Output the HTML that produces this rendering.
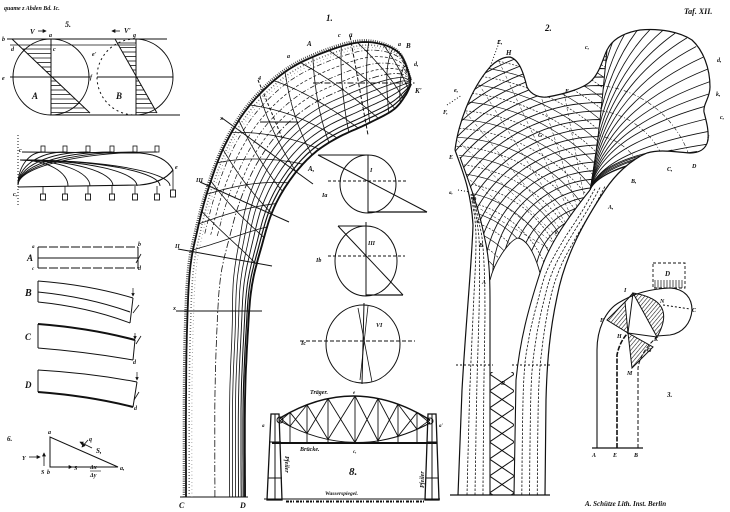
<!DOCTYPE html>
<html><head><meta charset="utf-8">
<style>
html,body{margin:0;padding:0;background:#fff;width:730px;height:512px;overflow:hidden;}
svg{display:block;}
text{font-family:"Liberation Serif",serif;font-style:italic;font-weight:bold;fill:#111;stroke:none;}
</style></head>
<body>
<svg id="s" width="730" height="512" viewBox="0 0 730 512" xmlns="http://www.w3.org/2000/svg" overflow="hidden">
<defs>
 <marker id="ar" viewBox="0 0 6 6" refX="5" refY="3" markerWidth="5" markerHeight="5" orient="auto"><path d="M0,0L6,3L0,6Z" fill="#111"/></marker>
 <pattern id="h" width="3" height="3" patternUnits="userSpaceOnUse" patternTransform="rotate(40)"><line x1="0" y1="0" x2="0" y2="3" stroke="#111" stroke-width="1.1"/></pattern>
 <clipPath id="meshClip"><path d="M455,150 C458,125 470,90 490,67 C497,60 503,57 510,57 C520,60 524,75 527,87 C531,95 540,98 547,97 C565,94 585,88 592,80 C600,72 603,58 607,50 L600,120 L590,190 C570,215 548,245 540,273 C535,255 528,240 518,238 C510,240 495,260 490,280 C490,275 489,255 486,245 C482,225 475,200 460,157 Z"/></clipPath>
 <clipPath id="fanClip"><path d="M590,190 L600,120 L607,50 C612,40 622,33 640,30 C660,28 680,32 692,40 C703,50 710,68 710,87 C710,98 703,104 704,112 C706,120 709,130 708,140 C706,150 698,153 690,153 C675,152 660,149 647,153 C630,160 615,175 605,190 Z"/></clipPath>
 <clipPath id="rClip"><rect x="490" y="372" width="24" height="123"/></clipPath>
</defs>

<g fill="none" stroke="#111" stroke-width="1">
 <!-- Figure 5 -->
 <line x1="7" y1="39" x2="167" y2="39"/>
 <line x1="10" y1="45" x2="135" y2="45" stroke-width="0.8"/>
 <line x1="50" y1="115" x2="180" y2="115"/>
 <circle cx="51" cy="77" r="38"/>
 <path d="M135,39 A38,38 0 0 1 135,115"/>
 <path d="M135,39 A38,38 0 0 0 135,115" stroke-dasharray="2 3"/>
 <line x1="10" y1="77" x2="90" y2="77"/>
 <line x1="97" y1="77" x2="173" y2="77"/>
 <line x1="51" y1="39" x2="51" y2="115"/>
 <line x1="12" y1="39" x2="90" y2="113"/>
 <line x1="136" y1="39" x2="136" y2="115"/>
 <line x1="115" y1="39" x2="157" y2="113"/>
 <line x1="38" y1="31" x2="46" y2="31" marker-end="url(#ar)" stroke-width="0.8"/>
 <line x1="120" y1="31" x2="112" y2="31" marker-end="url(#ar)" stroke-width="0.8"/>

 <!-- weights figure -->
 <line x1="18" y1="135" x2="18" y2="205" stroke-dasharray="1 2"/>
 <path d="M22,152 L140,153 Q165,155 173,170" stroke-width="1.1"/>
 <path d="M18,187 L140,185 Q163,183 173,170" stroke-width="1.1"/>
 <line x1="173" y1="170" x2="173" y2="190" stroke-width="0.8"/>
 <rect x="170.5" y="190" width="5" height="7" stroke-width="0.9"/>

 <!-- beams -->
 <line x1="38" y1="247" x2="138" y2="247" stroke-dasharray="9 2"/>
 <line x1="38" y1="258" x2="138" y2="258"/>
 <line x1="38" y1="268" x2="138" y2="268" stroke-dasharray="9 2"/>
 <line x1="38" y1="247" x2="38" y2="268"/>
 <line x1="138" y1="247" x2="138" y2="268"/>
 <line x1="136" y1="263" x2="141" y2="254" stroke-width="0.8"/>
 <path d="M38,281 Q90,285 133,298"/>
 <path d="M38,292 Q88,297 130,312"/>
 <path d="M38,302 Q88,307 130,323"/>
 <line x1="38" y1="281" x2="38" y2="302"/>
 <line x1="133" y1="298" x2="130" y2="323"/>
 <line x1="133" y1="288" x2="133" y2="296" marker-end="url(#ar)" stroke-width="0.7"/>
 <line x1="133" y1="313" x2="139" y2="305" stroke-width="0.8"/>
 <path d="M38,324 Q90,328 135,340" stroke-width="2"/>
 <path d="M38,348 Q88,352 133,360"/>
 <line x1="38" y1="324" x2="38" y2="348"/>
 <line x1="135" y1="340" x2="133" y2="360"/>
 <line x1="135" y1="333" x2="135" y2="339" marker-end="url(#ar)" stroke-width="0.7"/>
 <line x1="136" y1="344" x2="141" y2="336" stroke-width="0.8"/>
 <path d="M38,370 Q90,373 137,382"/>
 <path d="M38,392 Q90,396 133,407" stroke-width="2"/>
 <line x1="38" y1="370" x2="38" y2="392"/>
 <line x1="137" y1="382" x2="133" y2="407"/>
 <line x1="137" y1="372" x2="137" y2="380" marker-end="url(#ar)" stroke-width="0.7"/>
 <line x1="134" y1="400" x2="139" y2="392" stroke-width="0.8"/>

 <!-- figure 6 triangle -->
 <path d="M50,437 L50,467 L118,467 Z"/>
 <line x1="29" y1="457" x2="40" y2="457" marker-end="url(#ar)" stroke-width="0.8"/>
 <line x1="44" y1="466" x2="44" y2="453" marker-end="url(#ar)" stroke-width="0.8"/>
 <line x1="60" y1="467" x2="72" y2="467" marker-end="url(#ar)" stroke-width="0.8" stroke-dasharray="2 1"/>
 <line x1="88" y1="440" x2="82" y2="447" marker-end="url(#ar)" stroke-width="0.8"/>
 <line x1="92" y1="448" x2="80" y2="442" marker-end="url(#ar)" stroke-width="0.8"/>
 <line x1="90" y1="471" x2="101" y2="471" stroke-width="0.6"/>

 <!-- Figure 1 auxiliary straight lines -->
 <line x1="176" y1="311" x2="262" y2="311"/>
 <line x1="178" y1="249" x2="272" y2="266"/>
 <line x1="200" y1="182" x2="289" y2="222"/>
 <line x1="222" y1="118" x2="313" y2="184"/>
 <line x1="258" y1="80" x2="283" y2="140" stroke-dasharray="3 2"/>
 <line x1="260" y1="122" x2="298" y2="122"/>
 <line x1="350" y1="36" x2="368" y2="135" stroke-dasharray="4 2"/>
 <line x1="313" y1="83" x2="415" y2="83" stroke-dasharray="6 2 1.5 2"/>
 <line x1="180" y1="497" x2="248" y2="497"/>

 <!-- Fig 1a -->
 <ellipse cx="368" cy="184" rx="28" ry="29"/>
 <line x1="318" y1="155" x2="368" y2="155"/>
 <line x1="318" y1="155" x2="427" y2="212"/>
 <line x1="368" y1="212" x2="427" y2="212" stroke-width="1.3"/>
 <line x1="368" y1="155" x2="368" y2="213"/>
 <line x1="328" y1="181" x2="408" y2="181" stroke-dasharray="3 2"/>
 <!-- Fig 1b -->
 <ellipse cx="366" cy="261" rx="31" ry="35"/>
 <line x1="338" y1="226" x2="366" y2="226"/>
 <line x1="338" y1="226" x2="403" y2="295"/>
 <line x1="366" y1="295" x2="403" y2="295" stroke-width="1.2"/>
 <line x1="366" y1="222" x2="366" y2="296"/>
 <line x1="328" y1="256" x2="405" y2="256" stroke-dasharray="3 2"/>
 <!-- Fig 1c -->
 <ellipse cx="363" cy="344" rx="37" ry="39"/>
 <line x1="300" y1="341" x2="415" y2="341" stroke-dasharray="4 2"/>
 <line x1="364" y1="303" x2="362" y2="384"/>
 <line x1="358" y1="308" x2="372" y2="382" stroke-width="0.8"/>
 <line x1="368" y1="306" x2="360" y2="380" stroke-width="0.8"/>

 <!-- Fig 8 bridge -->
 <path d="M280,418 Q355,373 430,420" stroke-width="1.4"/>
 <path d="M280,421 Q355,463 430,423"/>
 <line x1="272" y1="443" x2="437" y2="443" stroke-width="2"/>
 <circle cx="280" cy="420" r="3"/>
 <circle cx="430" cy="421" r="3"/>
 <path d="M271,414 L279,414 L282,500 L267,500 Z" stroke-width="1.3"/>
 <line x1="275" y1="414" x2="275" y2="500"/>
 <line x1="269" y1="442" x2="281" y2="442"/>
 <line x1="268" y1="478" x2="282" y2="478"/>
 <path d="M428,414 L436,414 L439,500 L425,500 Z" stroke-width="1.3"/>
 <line x1="432" y1="414" x2="432" y2="500"/>
 <line x1="427" y1="442" x2="437" y2="442"/>
 <line x1="426" y1="478" x2="438" y2="478"/>
 <line x1="264" y1="499" x2="440" y2="499"/>
 <line x1="286" y1="501.5" x2="425" y2="501.5" stroke-width="2" stroke-dasharray="3 1 2 1 1 2"/>

 <!-- Figure 2 outlines -->
 <path d="M455,150 C458,125 470,90 490,67 C497,60 503,57 510,57 C520,60 524,75 527,87 C531,95 540,98 547,97 C565,94 585,88 592,80 C600,72 603,58 607,50 C612,40 622,33 640,30 C660,28 680,32 692,40 C703,50 710,68 710,87 C710,98 703,104 704,112 C706,120 709,130 708,140 C706,150 698,153 690,153 C675,152 660,149 647,153" stroke-width="1.2"/>
 <path d="M455,150 C462,170 471,190 473,225 C472,260 466,320 462,390 L458,495" stroke-width="1.2"/>
 <path d="M460,157 C468,180 478,205 484,235 C489,255 490,275 490,300 L490,495" stroke-width="1.1"/>
 <path d="M590,190 C570,215 548,245 540,273 C528,310 520,340 516,380 L514,495" stroke-width="1.1"/>
 <path d="M647,153 C630,160 615,175 605,190 C585,220 565,255 557,297 C550,330 547,360 546,400 L545,495" stroke-width="1.2"/>
 <path d="M490,280 C495,260 510,240 518,238 C528,240 535,255 540,273" stroke-width="0.9"/>
 <path d="M607,50 C603,90 598,150 590,190" stroke-width="1"/>
 <line x1="450" y1="495" x2="550" y2="495" stroke-width="1.2"/>
 <line x1="456" y1="365" x2="493" y2="365" stroke-dasharray="2 2"/>
 <line x1="512" y1="365" x2="552" y2="365" stroke-dasharray="2 2"/>
 <line x1="500" y1="40" x2="490" y2="67" stroke-dasharray="1 2"/>
 <line x1="447" y1="105" x2="462" y2="95" stroke-dasharray="1 2"/>
 <line x1="458" y1="190" x2="470" y2="192" stroke-dasharray="1 2"/>

 <!-- Figure 3 -->
 <line x1="592" y1="448" x2="643" y2="448" stroke-width="1.2"/>
 <path d="M597,448 L597,350 C597,330 605,310 620,302 C635,293 650,289 670,288 C685,289 692,298 692,310 C691,323 683,333 670,335 L657,336" stroke-width="1.1"/>
 <path d="M638,448 L638,368 C640,355 648,345 657,337" stroke-dasharray="4 2"/>
 <path d="M617,448 L617,355 C619,345 623,338 628,333" stroke-width="1.6" stroke-dasharray="5 1.5"/>
 <path d="M633,293 Q678,300 657,337 Z" fill="url(#h)"/>
 <path d="M607,320 L625,302 L628,333 Z" fill="url(#h)"/>
 <path d="M628,333 L653,347 L632,368 Z" fill="url(#h)"/>
 <line x1="625" y1="302" x2="633" y2="293"/>
 <line x1="628" y1="333" x2="657" y2="337"/>
 <line x1="633" y1="293" x2="628" y2="333"/>
 <line x1="663" y1="305" x2="690" y2="309" stroke-dasharray="2 2"/>
 <rect x="653" y="263" width="32" height="25" stroke-dasharray="3 2" stroke-width="0.9"/>
</g>

<g id="dyn" fill="none" stroke="#111" stroke-width="1"></g>

<g font-size="7">
 <text x="4" y="10" font-size="6">quame z Abden Bd. Ic.</text>
 <text x="684" y="14" font-size="8">Taf. XII.</text>
 <text x="65" y="27" font-size="8">5.</text>
 <text x="30" y="34">V</text>
 <text x="124" y="33">V'</text>
 <text x="49" y="37" font-size="6">a</text>
 <text x="133" y="37" font-size="6">g</text>
 <text x="2" y="41" font-size="6">b</text>
 <text x="11" y="51" font-size="6">d</text>
 <text x="53" y="51" font-size="6">c</text>
 <text x="2" y="80" font-size="6">e</text>
 <text x="90" y="79" font-size="6">f</text>
 <text x="92" y="56" font-size="6">e'</text>
 <text x="32" y="99" font-size="9">A</text>
 <text x="116" y="99" font-size="9">B</text>
 <text x="19" y="152" font-size="6">c</text>
 <text x="175" y="169" font-size="6">e</text>
 <text x="13" y="196" font-size="6">c,</text>
 <text x="27" y="261" font-size="9">A</text>
 <text x="25" y="296" font-size="10">B</text>
 <text x="25" y="340" font-size="9">C</text>
 <text x="25" y="388" font-size="9">D</text>
 <text x="32" y="248" font-size="5">a</text><text x="32" y="270" font-size="5">c</text>
 <text x="138" y="246" font-size="6">b</text><text x="138" y="270" font-size="6">d</text>
 <text x="134" y="410" font-size="6">d</text><text x="133" y="364" font-size="6">d</text>
 <text x="7" y="441" font-size="7">6.</text>
 <text x="48" y="434" font-size="6">a</text>
 <text x="47" y="474" font-size="6">b</text>
 <text x="120" y="470" font-size="6">a,</text>
 <text x="22" y="460" font-size="6">Y</text>
 <text x="41" y="474" font-size="6">S</text>
 <text x="74" y="470" font-size="6">S</text>
 <text x="90" y="469" font-size="6">Δx</text>
 <text x="90" y="477" font-size="6">Δy</text>
 <text x="89" y="441" font-size="6">q</text>
 <text x="96" y="453" font-size="7">S,</text>

 <text x="326" y="21" font-size="9">1.</text>
 <text x="307" y="46">A</text>
 <text x="338" y="37" font-size="6">c</text>
 <text x="349" y="37">a</text>
 <text x="406" y="48">B</text>
 <text x="398" y="46" font-size="6">a</text>
 <text x="414" y="66" font-size="6">d,</text>
 <text x="415" y="93">K'</text>
 <text x="287" y="58" font-size="6">a</text>
 <text x="258" y="80" font-size="6">4</text>
 <text x="220" y="120" font-size="6">x</text>
 <text x="196" y="182" font-size="6">III</text>
 <text x="175" y="248" font-size="6">II</text>
 <text x="173" y="310" font-size="6">x</text>
 <text x="308" y="171">A,</text>
 <text x="370" y="172" font-size="6">I</text>
 <text x="322" y="197" font-size="6">Ia</text>
 <text x="368" y="245" font-size="6">III</text>
 <text x="316" y="262" font-size="6">Ib</text>
 <text x="376" y="327" font-size="6">VI</text>
 <text x="301" y="345" font-size="6">Ic</text>
 <text x="179" y="508" font-size="8">C</text>
 <text x="240" y="508" font-size="8">D</text>

 <text x="310" y="394" font-size="6">Träger.</text>
 <text x="353" y="394" font-size="5">e</text>
 <text x="300" y="451" font-size="6">Brücke.</text>
 <text x="353" y="453" font-size="5">c,</text>
 <text x="349" y="475" font-size="11">8.</text>
 <text x="262" y="427" font-size="5">a</text>
 <text x="439" y="427" font-size="5">a'</text>
 <text transform="translate(285,456) rotate(90)" font-size="6">Pfeiler</text>
 <text transform="translate(424,488) rotate(-90)" font-size="6">Pfeiler</text>
 <text x="325" y="495" font-size="5.5">Wasserspiegel.</text>

 <text x="545" y="31" font-size="9">2.</text>
 <text x="497" y="44" font-size="6">E,</text>
 <text x="506" y="55">H</text>
 <text x="585" y="49" font-size="6">c,</text>
 <text x="717" y="62" font-size="6">d,</text>
 <text x="716" y="96" font-size="6">k,</text>
 <text x="720" y="119" font-size="6">c,</text>
 <text x="707" y="140" font-size="6">f</text>
 <text x="565" y="93" font-size="6">F</text>
 <text x="538" y="137" font-size="6">G</text>
 <text x="454" y="92" font-size="6">e,</text>
 <text x="443" y="114" font-size="6">F,</text>
 <text x="449" y="159" font-size="6">E</text>
 <text x="449" y="194" font-size="5">a,</text>
 <text x="472" y="201" font-size="6">D</text>
 <text x="477" y="223" font-size="6">C</text>
 <text x="479" y="247" font-size="6">B</text>
 <text x="482" y="284" font-size="6">A</text>
 <text x="608" y="209" font-size="6">A,</text>
 <text x="631" y="183" font-size="6">B,</text>
 <text x="667" y="171" font-size="6">C,</text>
 <text x="692" y="168" font-size="6">D</text>
 <text x="501" y="385" font-size="6">R</text>
 <text x="555" y="234" font-size="5">k</text>

 <text x="592" y="457" font-size="6">A</text>
 <text x="613" y="457" font-size="6">E</text>
 <text x="634" y="457" font-size="6">B</text>
 <text x="667" y="397" font-size="7">3.</text>
 <text x="600" y="322" font-size="6">F</text>
 <text x="624" y="292" font-size="6">I</text>
 <text x="660" y="303" font-size="6">N</text>
 <text x="692" y="312" font-size="6">C</text>
 <text x="617" y="338" font-size="6">H</text>
 <text x="627" y="375" font-size="6">M</text>
 <text x="647" y="352" font-size="6">G</text>
 <text x="654" y="341" font-size="6">K</text>
 <text x="665" y="276" font-size="7">D</text>

 <text x="585" y="506" font-size="7">A. Schütze Lith. Inst. Berlin</text>
</g>
</svg>

<script>
(function(){
var NS='http://www.w3.org/2000/svg';
var g=document.getElementById('dyn');
function add(parent,tag,attrs){var e=document.createElementNS(NS,tag);for(var k in attrs)e.setAttribute(k,attrs[k]);parent.appendChild(e);return e;}
function P(d,a){return add(g,'path',Object.assign({d:d},a||{}));}
function L(x1,y1,x2,y2,a){return add(g,'line',Object.assign({x1:x1,y1:y1,x2:x2,y2:y2},a||{}));}
function lerp(a,b,t){return [a[0]+(b[0]-a[0])*t,a[1]+(b[1]-a[1])*t];}
function cr(pts,per){per=per||10;var out=[];
 for(var i=0;i<pts.length-1;i++){var p0=pts[Math.max(i-1,0)],p1=pts[i],p2=pts[i+1],p3=pts[Math.min(i+2,pts.length-1)];
  for(var j=0;j<per;j++){var t=j/per,t2=t*t,t3=t2*t;
   var f=function(a,b,c,d){return 0.5*((2*b)+(-a+c)*t+(2*a-5*b+4*c-d)*t2+(-a+3*b-3*c+d)*t3);};
   out.push([f(p0[0],p1[0],p2[0],p3[0]),f(p0[1],p1[1],p2[1],p3[1])]);}}
 out.push(pts[pts.length-1]);return out;}
function resample(pts,n){var d=[0];for(var i=1;i<pts.length;i++)d.push(d[i-1]+Math.hypot(pts[i][0]-pts[i-1][0],pts[i][1]-pts[i-1][1]));
 var Lt=d[d.length-1];var out=[];var j=0;
 for(var k=0;k<n;k++){var s=Lt*k/(n-1);while(j<pts.length-2&&d[j+1]<s)j++;var u=(s-d[j])/((d[j+1]-d[j])||1);
  out.push([pts[j][0]+(pts[j+1][0]-pts[j][0])*u,pts[j][1]+(pts[j+1][1]-pts[j][1])*u]);}return out;}
function pd(pts){return 'M'+pts.map(function(p){return p[0].toFixed(1)+','+p[1].toFixed(1);}).join('L');}
function sampleAt(arr,f){f=Math.max(0,Math.min(arr.length-1,f));var i=Math.floor(f),u=f-i;if(i>=arr.length-1)return arr[arr.length-1];return lerp(arr[i],arr[i+1],u);}
function arcPts(cx,cy,r,a0,a1){var pts=[];var n=Math.max(8,Math.ceil(Math.abs(a1-a0)/3));for(var i=0;i<=n;i++){var a=(a0+(a1-a0)*i/n)*Math.PI/180;pts.push([cx+r*Math.cos(a),cy+r*Math.sin(a)]);}return pts;}

/* Figure 5 hatching */
var y;
for(y=49;y<76;y+=4.5){L(12+(y-39)*78/74,y,51,y,{'stroke-width':0.8});}
for(y=81;y<114;y+=4.5){L(51,y,12+(y-39)*78/74,y,{'stroke-width':0.8});}
for(y=43;y<76;y+=4.5){L(115+(y-39)*42/74,y,136,y,{'stroke-width':0.8});}
for(y=81;y<114;y+=4.5){L(136,y,115+(y-39)*42/74,y,{'stroke-width':0.8});}

/* weights */
[43,65,88,112,135,157].forEach(function(x){
 add(g,'rect',{x:x-2,y:146,width:4,height:6,'stroke-width':0.8});
 add(g,'rect',{x:x-2.5,y:194,width:5,height:6,'stroke-width':0.9});
 L(x,186,x,194,{'stroke-width':0.8});
 P('M18,185 A'+(x-18)+',33 0 0 1 '+x+',152',{'stroke-width':0.9});
 var x2=Math.min(x+25,170);
 P('M20,160 A'+(x2-20)+',26 0 0 1 '+x2+',186',{'stroke-width':0.9});
});

/* Figure 1 crane */
var secO=[[186,497],[186,400],[187,330],[190,270],[197,232],[208,190],[225,145],[250,105],[285,72],[325,52],[365,42],[398,52],[411,80]];
var secI=[[245,497],[245,400],[248,330],[252,285],[262,245],[273,210],[290,180],[312,155],[337,138],[367,124],[393,110],[405,96],[411,84]];
var W=[0,0,0,0.25,0.55,0.85,1,1,1,1,1,1,1];
function crane(tb,tt,start){var pts=[];for(var k=start||0;k<secO.length;k++){var t=tb*(1-W[k])+tt*W[k];pts.push(lerp(secO[k],secI[k],t));}return cr(pts,10);}
P(pd(crane(-0.035,-0.025)),{'stroke-width':2.4,'stroke-dasharray':'0.8 1.4',stroke:'#333'});
P(pd(crane(0.055,0.045)),{'stroke-width':1.6,'stroke-dasharray':'0.8 2.2',stroke:'#555'});
P(pd(crane(0.1,0.08)),{'stroke-width':1,'stroke-dasharray':'0.6 3',stroke:'#777'});
[[0,0,'',1.8,0],[1,1,'',1.9,0],[0.49,0.5,'7 2 1.5 2',0.8,0],
 [0.74,0.58,'',0.8,0],[0.79,0.66,'',0.8,0],[0.84,0.74,'',0.8,0],[0.89,0.82,'',0.9,0],[0.935,0.9,'',1,0],[0.97,0.95,'',1.2,0],
 [0.12,0.12,'5 2 1 2',0.7,4],[0.2,0.22,'3 2',0.7,4],[0.3,0.32,'5 2 1 2',0.7,4],[0.4,0.41,'3 2',0.7,5]
].forEach(function(a){var e=P(pd(crane(a[0],a[1],a[4])),{'stroke-width':a[3]});if(a[2])e.setAttribute('stroke-dasharray',a[2]);});
var grid=[];for(var m=0;m<=20;m++)grid.push(crane(m/20,m/20));
[10,-10].forEach(function(off){for(var u=40;u<=114;u+=7){var pts=[];for(var m=0;m<=20;m++){pts.push(sampleAt(grid[m],u+off*(m/20-0.5)));}P(pd(pts),{'stroke-width':0.8});}});

/* Figure 8 bridge */
function ty(t){return (1-t)*(1-t)*418+2*t*(1-t)*373+t*t*420;}
function by(t){return (1-t)*(1-t)*421+2*t*(1-t)*463+t*t*423;}
var xs=[280,290,307,328,355,378,398,417,430];
xs.slice(1,-1).forEach(function(x){var t=(x-280)/150;L(x,ty(t),x,443,{'stroke-width':0.9});});
for(var i=0;i<xs.length-1;i++){var t1=(xs[i]-280)/150,t2=(xs[i+1]-280)/150;L(xs[i],ty(t1),xs[i+1],by(t2),{'stroke-width':0.9});L(xs[i+1],ty(t2),xs[i],by(t1),{'stroke-width':0.9});}

/* Figure 2 femur */
var mg=add(g,'g',{'clip-path':'url(#meshClip)'});
var r,e,k2;
for(r=48;r<=250;r+=8.5){add(mg,'path',{d:pd(arcPts(600,278,r,175,300)),'stroke-width':0.9});}
k2=0;for(r=60;r<=300;r+=9){var aEnd=Math.min(345,360-Math.acos(Math.min(1,250/r))*180/Math.PI);var aStart=Math.max(265,270-Math.asin(Math.min(1,(305-5)/r))*0+ -5);
 e=add(mg,'path',{d:pd(arcPts(448,305,r,Math.max(268,aStart),aEnd)),'stroke-width':0.65});if(k2%2)e.setAttribute('stroke-dasharray','2 1.5');k2++;}
for(var a=-150;a<=-95;a+=7){var rad=a*Math.PI/180;add(mg,'line',{x1:600,y1:278,x2:600+240*Math.cos(rad),y2:278+240*Math.sin(rad),'stroke-width':0.5,'stroke-dasharray':'3 2'});}
var fg=add(g,'g',{'clip-path':'url(#fanClip)'});
var head=resample(cr([[607,50],[615,38],[627,33],[640,30],[657,30],[675,33],[690,40],[700,52],[707,67],[710,87],[705,105],[707,125],[707,145],[690,153],[670,150],[647,153]],8),22);
var P0=[590,190];
head.forEach(function(E){var c=[P0[0]+(E[0]-P0[0])*0.1,E[1]+(P0[1]-E[1])*0.35];add(fg,'path',{d:'M'+P0[0]+','+P0[1]+' Q'+c[0].toFixed(1)+','+c[1].toFixed(1)+' '+E[0].toFixed(1)+','+E[1].toFixed(1),'stroke-width':0.85});});
[55,80,105].forEach(function(rr){add(fg,'path',{d:pd(arcPts(590,190,rr,220,360)),'stroke-width':0.6,'stroke-dasharray':'4 2 1 2'});});
var lcO=[[458,495],[462,390],[467,310],[472,250],[473,220],[470,195]],lcI=[[490,495],[490,390],[490,300],[486,245],[480,220],[473,193]];
[0.28,0.53,0.78].forEach(function(t){P(pd(cr(lcO.map(function(o,k){return lerp(o,lcI[k],t);}),8)),{'stroke-dasharray':'2.5 1.5','stroke-width':0.8});});
var rcI=[[514,495],[516,380],[522,335],[532,300],[540,273],[555,245],[575,215],[590,190]],rcO=[[545,495],[546,400],[549,350],[556,300],[566,268],[580,240],[600,205],[610,185]];
[0.25,0.5,0.75].forEach(function(t){P(pd(cr(rcI.map(function(o,k){return lerp(o,rcO[k],t);}),8)),{'stroke-dasharray':'2.5 1.5','stroke-width':0.8});});
var rg=add(g,'g',{'clip-path':'url(#rClip)'});
for(var k=0;k<8;k++){var y0=356+17*k;add(rg,'line',{x1:488,y1:y0,x2:516,y2:y0+19});add(rg,'line',{x1:488,y1:y0+19,x2:516,y2:y0});}
add(rg,'line',{x1:488,y1:492,x2:493,y2:495});add(rg,'line',{x1:511,y1:495,x2:516,y2:492});

/* Figure 3 box ticks */
for(var x=655;x<=684;x+=3){L(x,280,x,288,{'stroke-width':0.7});}
})();
</script>
</body></html>
